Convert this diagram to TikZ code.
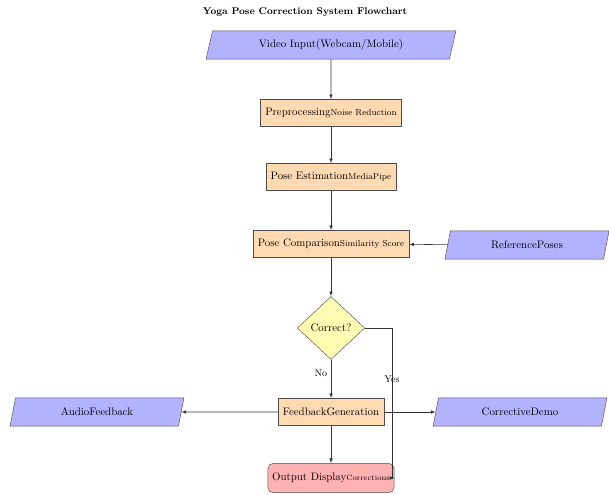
\documentclass[tikz,border=0pt]{standalone}
\usepackage{xcolor}
\usepackage{tikz}
\usetikzlibrary{shapes.geometric,arrows,positioning}

\begin{document}
\begin{tikzpicture}[x=0.92pt,y=-0.92pt,
  io/.style={trapezium, trapezium left angle=70, trapezium right angle=110,
    trapezium stretches body, draw=black!70, fill=blue!30,
    minimum height=26pt, minimum width=160pt},
  process/.style={rectangle, draw=black!70, fill=orange!30,
    minimum height=25pt, inner xsep=4.5pt},
  decision/.style={diamond, draw=black!70, fill=yellow!30,
    minimum width=62pt, minimum height=58pt, inner sep=1pt},
  terminal/.style={rectangle, rounded corners=5pt, draw=black!70, fill=red!30,
    minimum height=27pt, inner xsep=4pt},
  line/.style={draw=black!80, line width=0.5pt, -latex}]

\useasboundingbox (0,0) rectangle (609,495);

\node (title) at (305,12) {\small\bfseries Yoga Pose Correction System Flowchart};

\node[io, minimum width=230pt] (video) at (331,45) {Video Input(Webcam/Mobile)};
\node[process] (prep) at (331,113) {Preprocessing{\footnotesize Noise Reduction}};
\node[process] (est)  at (331,177) {Pose Estimation{\footnotesize MediaPipe}};
\node[process] (comp) at (331,244) {Pose Comparison{\footnotesize Similarity Score}};
\node[io, minimum width=151pt] (ref) at (527,245) {ReferencePoses};

\node[decision] (check) at (331,328) {Correct?};

\node[process] (fb) at (331,412) {FeedbackGeneration};
\node[io] (audio) at (97,412) {AudioFeedback};
\node[io] (demo)  at (520,412) {CorrectiveDemo};

\node[terminal] (out) at (331,478) {Output Display{\scriptsize Corrections}};

%%%%%%%%%%%%%%%
\draw[line] (video) -- (prep);
\draw[line] (prep) -- (est);
\draw[line] (est) -- (comp);
\draw[line] (ref) -- (comp);
\draw[line] (comp) -- (check);
\draw[line] (check) -- node[left, pos=0.35] {\small No} (fb);
\draw[line] (check.east) -- ++(27,0) |- node[pos=0.17] {\small Yes} (out.east);
\draw[line] (fb) -- (audio);
\draw[line] (fb) -- (demo);
\draw[line] (fb) -- (out);

\end{tikzpicture}
\end{document}
